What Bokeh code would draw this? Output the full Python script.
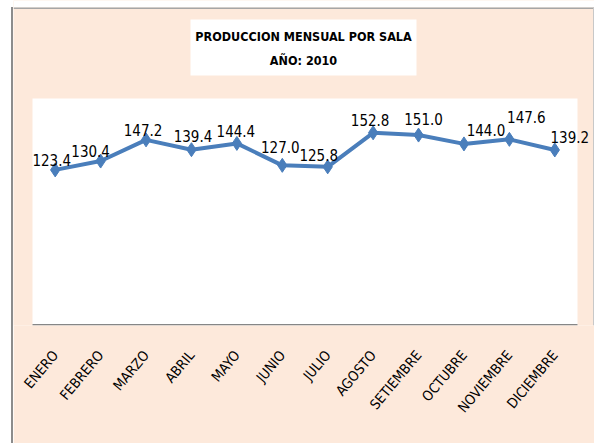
import math
from bokeh.plotting import figure
from bokeh.models import ColumnDataSource, Range1d, BoxAnnotation, Label, FixedTicker, Spacer
from bokeh.layouts import row
from bokeh.core.properties import value
from bokeh.embed import file_html
from bokeh.resources import INLINE

months = ["ENERO", "FEBRERO", "MARZO", "ABRIL", "MAYO", "JUNIO", "JULIO",
          "AGOSTO", "SETIEMBRE", "OCTUBRE", "NOVIEMBRE", "DICIEMBRE"]
produccion = [123.4, 130.4, 147.2, 139.4, 144.4, 127.0, 125.8,
              152.8, 151.0, 144.0, 147.6, 139.2]
etiquetas = ["%.1f" % v for v in produccion]
y_max = 180  # value axis maximum (hidden axis)

# label nudges (pixels) to mimic the hand-placed data labels
label_dx = [-3.5, -10, -3, 1.5, -1, -2, -9, -3, 5, 22, 17, 15]
label_dy = [-10, -10, -10, -14, -12, -18, -12, -13, -16, -14, -22, -13]

title_line1 = "PRODUCCION MENSUAL POR SALA"
title_line2 = "AÑO: 2010"

PEACH = "#FDE9DB"
BLUE = "#4A7EBB"
FONT = "'DejaVu Sans Condensed', 'DejaVu Sans', sans-serif"

# ---- layout (page pixels) ----
FIG_LEFT, FIG_W, FIG_H = 13, 581, 443
PA_L, PA_R, PA_T, PA_B = 32, 577, 98, 325      # plot area
n = len(months)
SX = (PA_R - PA_L) / n
SY = (PA_B - PA_T) / y_max
X0 = -0.5 - (PA_L - FIG_LEFT) / SX
X1 = X0 + FIG_W / SX
Y1 = PA_B / SY


def xd(px):
    return X0 + (px - FIG_LEFT) / SX


def yd(py):
    return (PA_B - py) / SY


xs = list(range(n))
src = ColumnDataSource(dict(x=xs, v=produccion, t=etiquetas, dx=label_dx, dy=label_dy))

p = figure(width=FIG_W, height=FIG_H, x_range=Range1d(X0, X1), y_range=Range1d(0, Y1),
           output_backend="svg", toolbar_location=None,
           min_border_left=0, min_border_right=0, min_border_top=0,
           min_border_bottom=FIG_H - PA_B)
p.border_fill_color = PEACH
p.background_fill_color = PEACH
p.outline_line_color = None
p.grid.visible = False
p.yaxis.visible = False


def box(**kw):
    b = BoxAnnotation(fill_alpha=1, line_color=None, level="underlay", **kw)
    p.add_layout(b)
    return b


box(bottom=yd(7), fill_color="white")                                   # white strip on top
box(right=xd(593.5), bottom=yd(8.5), top=yd(7), fill_color="#a6a6a6")   # top border
box(left=xd(592.5), top=yd(7), fill_color="#c8c8c8")                     # right border
box(left=-0.5, right=n - 0.5, bottom=0, top=y_max, fill_color="white")   # plot area
box(left=-0.5, right=n - 0.5, bottom=0, top=yd(PA_B - 1.5), fill_color="#868686")  # axis line
box(left=xd(190), right=xd(416), top=yd(19), bottom=yd(75), fill_color="white")   # title box

p.line("x", "v", source=src, line_color=BLUE, line_width=4)
p.scatter("x", "v", source=src, marker="diamond", size=14, fill_color=BLUE,
          line_color=BLUE, line_width=1)
p.text("x", "v", text="t", source=src, x_offset="dx", y_offset="dy",
       text_align="center", text_baseline="alphabetic",
       text_font=value(FONT), text_font_size="15px", text_color="#000000")

ax = p.xaxis[0]
ax.ticker = FixedTicker(ticks=xs)
ax.major_label_overrides = {i: m for i, m in zip(xs, months)}
ax.axis_line_color = None
ax.major_tick_line_color = None
ax.minor_tick_line_color = None
ax.major_label_orientation = math.radians(50)
ax.major_label_standoff = 21
ax.major_label_text_font = FONT
ax.major_label_text_font_size = "14px"
ax.major_label_text_color = "#000000"

for txt, py in ((title_line1, 36), (title_line2, 60)):
    p.add_layout(Label(x=xd(303), y=yd(py), text=txt, text_align="center",
                       text_baseline="middle", text_font=FONT, text_font_style="bold",
                       text_font_size="12.5px", text_color="#000000"))

edge = Spacer(width=FIG_LEFT, height=FIG_H, styles={
    "background": "linear-gradient(to bottom, #ffffff 7px, transparent 7px), "
                  "linear-gradient(to right, #ffffff 11px, #8c8c8c 11px)"})
layout = row(edge, p)
open("out.html", "w").write(file_html(layout, INLINE))
